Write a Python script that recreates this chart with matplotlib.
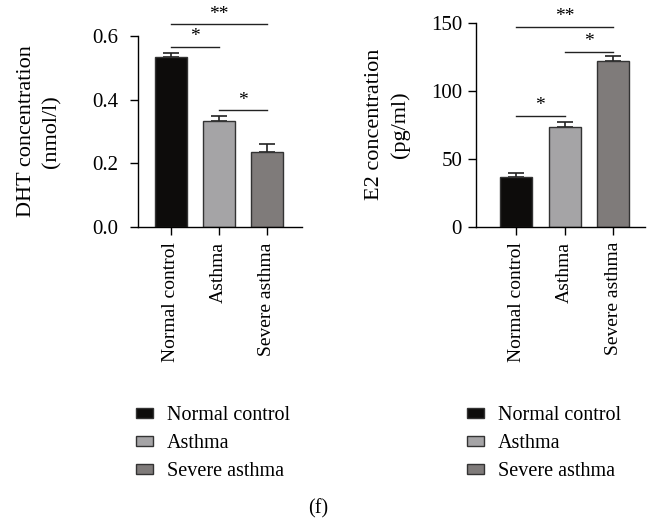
import numpy as np
import matplotlib.pyplot as plt
from matplotlib.patches import Patch

plt.rcParams['font.family'] = ['Liberation Serif', 'DejaVu Serif']

groups = ['Normal control', 'Asthma', 'Severe asthma']
colors = ['#0d0c0b', '#a5a4a6', '#7f7b7a']

dht_mean = [0.533, 0.334, 0.237]
dht_err = [0.015, 0.015, 0.023]
e2_mean = [36.8, 73.0, 121.5]
e2_err = [2.7, 4.0, 4.2]

# significance brackets: (group i, group j, height, label)
dht_sig = [(0, 1, 0.566, '*'), (1, 2, 0.367, '*'), (0, 2, 0.637, '**')]
e2_sig = [(0, 1, 81.4, '*'), (1, 2, 128.7, '*'), (0, 2, 147.0, '**')]

fig = plt.figure(figsize=(6.48, 5.2), dpi=100)
ax1 = fig.add_axes([138/648, 1 - 227/520, 164/648, 191/520])
ax2 = fig.add_axes([476/648, 1 - 226.7/520, 169/648, 204/520])


def panel(ax, mean, err, sig, ymax, step, ylabel, xlim, fmt, ypad, tpad):
    x = np.arange(len(groups))
    ax.bar(x, mean, width=0.66, color=colors, edgecolor='#333333', linewidth=1.0, zorder=2)
    ax.errorbar(x, mean, yerr=[np.zeros(len(err)), err], fmt='none', ecolor='#222222',
                elinewidth=1.2, capsize=6, capthick=1.2, zorder=1)
    for i, j, h, lab in sig:
        ax.plot([i, j], [h, h], color='#222222', lw=1.0, clip_on=False)
        ax.text((i + j) / 2, h + ymax * 0.008, lab, ha='center', va='bottom', fontsize=14)
    ax.set_ylim(0, ymax)
    ax.set_xlim(*xlim)
    ax.set_yticks(np.arange(0, ymax + step / 2, step))
    ax.yaxis.set_major_formatter(plt.FormatStrFormatter(fmt))
    ax.set_xticks(x)
    ax.set_xticklabels(groups, rotation=90, fontsize=14)
    ax.tick_params(axis='y', labelsize=15, length=6, width=1.0, direction='out', pad=tpad)
    ax.tick_params(axis='x', length=6, width=1.0, direction='out', pad=5)
    ax.spines['top'].set_visible(False)
    ax.spines['right'].set_visible(False)
    ax.spines['left'].set_linewidth(1.0)
    ax.spines['bottom'].set_linewidth(1.0)
    ax.set_ylabel(ylabel, fontsize=16, labelpad=ypad, linespacing=1.45)


panel(ax1, dht_mean, dht_err, dht_sig, 0.6, 0.2, 'DHT concentration\n(nmol/l)',
      (-0.68, 2.73), '%.1f', 22, 8)
panel(ax2, e2_mean, e2_err, e2_sig, 150, 50, 'E2 concentration\n(pg/ml)',
      (-0.83, 2.66), '%d', 15, 4)

handles = [Patch(facecolor=c, edgecolor='#333333', linewidth=1.0) for c in colors]
for xpos in [128/648, 459/648]:
    fig.legend(handles, groups, loc='upper left', bbox_to_anchor=(xpos, 1 - 398/520),
               frameon=False, fontsize=14.5, handlelength=0.82, handleheight=0.42,
               handletextpad=0.7, labelspacing=0.45, borderaxespad=0)

fig.text(318/648, 1 - 509/520, '(f)', ha='center', va='center', fontsize=14.5)

plt.savefig('out.png', dpi=100)
